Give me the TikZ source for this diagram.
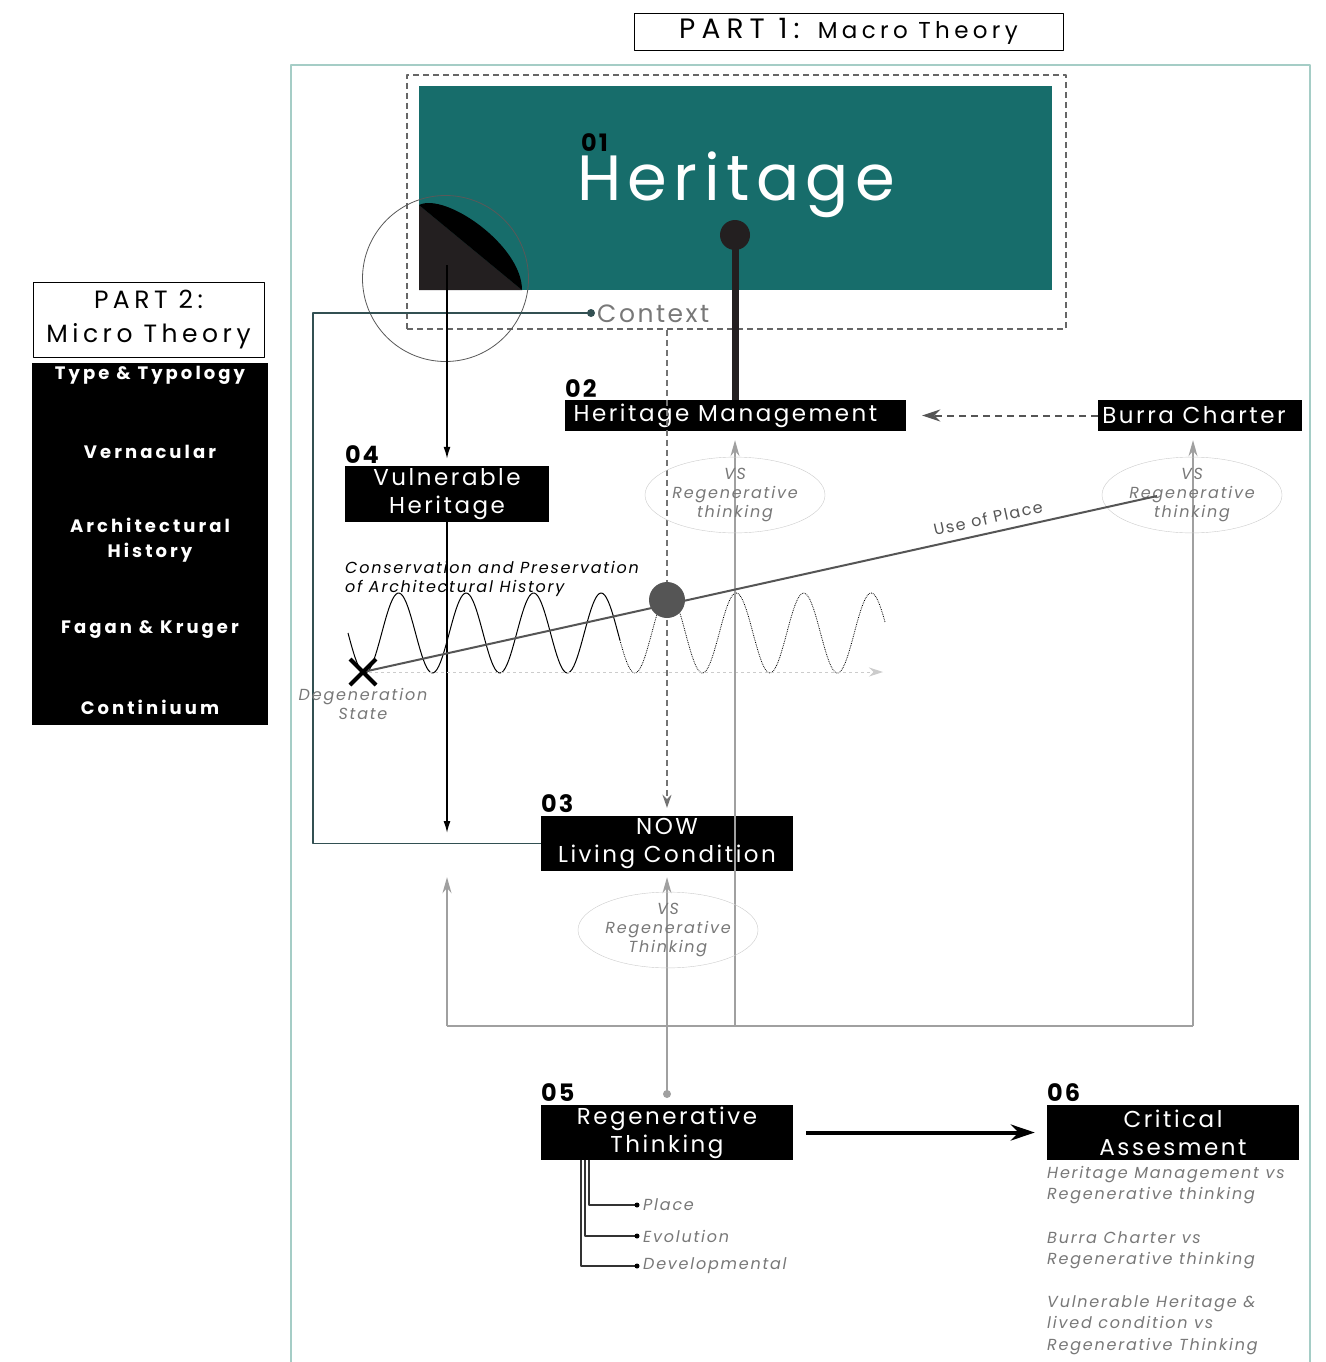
\documentclass[tikz,border=0pt]{standalone}
\usepackage{fontspec}
\setmainfont{Poppins}[LetterSpace=8]
\usetikzlibrary{arrows.meta,positioning,shapes.geometric}

\definecolor{herteal}{RGB}{23,109,107}
\definecolor{frameline}{RGB}{165,205,198}
\definecolor{ctxline}{RGB}{50,80,82}
\definecolor{darkink}{RGB}{35,31,32}
\definecolor{midgrey}{RGB}{85,85,85}
\definecolor{txtgrey}{RGB}{120,120,120}
\definecolor{linegrey}{RGB}{160,160,160}
\newcommand{\fsz}[2]{\fontsize{#1}{#2}\selectfont}
\newcommand{\wide}[1]{\addfontfeature{LetterSpace=#1}}

\tikzset{
  blkbox/.style={fill=black, text=white, inner sep=0, align=center, font=\fsz{23}{28}\wide{11}},
  numlbl/.style={anchor=base west, inner sep=0, font=\bfseries\fsz{24}{24}},
  vsnote/.style={ellipse, draw=black!20, minimum width=180, minimum height=64,
    inner sep=0, align=center, text=txtgrey, font=\itshape\fsz{16}{19}\wide{11}},
  greyarr/.style={linegrey, line width=1.5, -{Stealth[length=16pt,width=9pt]}},
  note/.style={inner sep=0, text=txtgrey, font=\itshape\fsz{16}{19}\wide{11}},
}

\begin{document}
\begin{tikzpicture}[x=1pt, y=-1pt, >={Latex[length=12pt,width=7pt]}, line join=bevel]
\useasboundingbox (0,0) rectangle (1325,1362);
\fill[white] (0,0) rectangle (1325,1362);

% frames
\draw[frameline, line width=1.2] (291,1362) |- (1310,65) -- (1310,1362);
\node[draw, line width=0.8, minimum width=429, minimum height=37, inner sep=0] (p1) at (848.5,31.5)
  {\fsz{28}{28}\wide{22}PART 1: \fsz{23}{23}\wide{19}Macro Theory};

% part 2
\node[draw, line width=0.8, minimum width=231, minimum height=75, inner sep=0, align=center,
  font=\fsz{25}{34}\wide{18}] (p2) at (148.5,319.5) {PART 2:\\Micro Theory};
\fill[black] (32,363) rectangle (268,725);
\begin{scope}[every node/.style={text=white, font=\bfseries\fsz{18}{25}\wide{17}, align=center, inner sep=0}]
\node (m1) at (150,375) {Type \& Typology};
\node (m2) at (150,452) {Vernacular};
\node (m3) at (150,540) {Architectural\\History};
\node (m4) at (150,630) {Fagan \& Kruger};
\node (m5) at (150,707) {Continiuum};
\end{scope}

% 01 heritage
\node[draw=black!60, dash pattern=on 6pt off 4pt, line width=1.5, minimum width=659, minimum height=254, inner sep=0] (hbox) at (736.5,202) {};
\fill[herteal] (419,86) rectangle (1052,290);
\node[anchor=base west, inner sep=0, text=white, font=\fsz{64}{64}\wide{10}] (her) at (577,200) {Heritage};
\node[numlbl] (n1) at (581,151) {01};
\fill[darkink] (419,205) -- (522,290) -- (419,290) -- cycle;
\fill[black] (419,205) .. controls (445,192) and (522,245) .. (522,290) -- cycle;
\draw[black!65, line width=0.8] (445.5,278.5) circle (83);
\coordinate (pin) at (735,235);
\coordinate (tip) at (447,265);

% boxes
\node[blkbox, minimum width=341, minimum height=31] (hm) at (735.5,415.5) {\hspace*{-20pt}Heritage Management};
\node[numlbl] (n2) at (565,397) {02};
\node[blkbox, minimum width=204, minimum height=31] (bc) at (1200,415.5) {\hspace*{-12pt}Burra Charter};
\node[blkbox, minimum width=204, minimum height=56] (vh) at (447,494) {Vulnerable\\Heritage};
\node[numlbl] (n4) at (345,463) {04};
\node[blkbox, minimum width=252, minimum height=55] (now) at (667,843.5) {NOW\\Living Condition};
\node[numlbl] (n3) at (541,812) {03};
\node[blkbox, minimum width=252, minimum height=55] (rt) at (667,1132.5) {Regenerative\\Thinking};
\node[numlbl] (n5) at (541,1101) {05};
\node[blkbox, minimum width=252, minimum height=55] (ca) at (1173,1132.5) {Critical\\Assesment};
\node[numlbl] (n6) at (1047,1101) {06};

% context
\coordinate (cdot) at (591,313);
\node[anchor=west, inner sep=0, text=txtgrey, font=\fsz{25}{25}\wide{10}] (ctx) at (597,314) {Context};
\draw[ctxline, line width=1.5] (cdot) -| (313,843.5) -- (now.west);
\fill[ctxline] (cdot) circle (4);

% heritage pin
\draw[darkink, line width=7] (pin) -- (pin |- hm.north);
\fill[darkink] (pin) circle (15);

% vulnerable heritage arrows
\draw[black, line width=1.5, ->] (tip) -- ([yshift=7]vh.north);
\draw[black, line width=1.5, ->] (vh.south) -- (447,833);

% dashed
\draw[black!55, line width=1.5, dash pattern=on 6pt off 4pt, -{Stealth[length=13pt,width=9pt]}] (hbox.south -| now.north) -- ([yshift=8]now.north);
\draw[midgrey, line width=2, dash pattern=on 7pt off 5pt, -{Stealth[length=18pt,width=12pt]}, shorten >=16] (bc.west) -- (hm.east);

% wave
\draw[black, line width=1] plot[domain=0:272, samples=160] (348+\x, {633+40*sin(5.3333*\x)});
\draw[black, line width=0.8, densely dotted] plot[domain=272:537, samples=160] (348+\x, {633+40*sin(5.3333*\x)});
\coordinate (xm) at (363,672);
\draw[black!20, line width=1, dashed, -{Stealth[length=14pt,width=9pt]}] (xm) -- (883,672);
\node[anchor=base west, inner sep=0, align=left, font=\itshape\fsz{16}{19}\wide{11}] (cons) at (345,592)
  {Conservation and Preservation\\of Architectural History};

% regenerative links
\coordinate (b1) at (447,1026);
\coordinate (b2) at (735,1026);
\coordinate (b3) at (1193,1026);
\coordinate (rdot) at (667,1094);
\draw[linegrey, line width=1.5] (b1) -- (b3);
\draw[greyarr] (b1) -- ([yshift=-6]b1 |- now.south);
\draw[greyarr] (b2) -- ([yshift=-9]b2 |- hm.south);
\draw[greyarr] (b3) -- ([yshift=-9]b3 |- bc.south);
\draw[greyarr] (rdot) -- ([yshift=-6]now.south);
\fill[linegrey] (rdot) circle (4);

\node[vsnote] (vs1) at (735,495) {VS\\Regenerative\\thinking};
\node[vsnote] (vs2) at (1192,495) {VS\\Regenerative\\thinking};
\node[vsnote] (vs3) at (668,930) {VS\\Regenerative\\Thinking};

% use of place
\coordinate (uend) at (1157,496);
\draw[midgrey, line width=2] (xm) -- (uend);
\node[rotate=12.5, inner sep=0, text=midgrey, font=\fsz{16}{16}\wide{10}] (uop) at (988,518) {Use of Place};
\fill[midgrey] (667,600) circle (18);
\draw[black, line width=4] (xm) ++(-13,-13) -- ++(26,26) (xm) ++(13,-13) -- ++(-26,26);
\node[note, align=center] (deg) at (363,704) {Degeneration\\State};

% to critical assesment
\draw[black, line width=4, -{Stealth[length=24pt,width=16pt]}, shorten <=13, shorten >=12] (rt.east) -- (ca.west);
\node[note, anchor=north west, align=left, font=\itshape\fsz{16}{21.5}\wide{11}] (cn1) at (1047,1166)
  {Heritage Management vs\\Regenerative thinking};
\node[note, anchor=north west, align=left, font=\itshape\fsz{16}{21.5}\wide{11}] (cn2) at (1047,1231)
  {Burra Charter vs\\Regenerative thinking};
\node[note, anchor=north west, align=left, font=\itshape\fsz{16}{21.5}\wide{11}] (cn3) at (1047,1295)
  {Vulnerable Heritage \&\\lived condition vs\\Regenerative Thinking};

% branches
\node[note, anchor=west] (pl) at (643,1205) {Place};
\node[note, anchor=west] (ev) at (643,1236) {Evolution};
\node[note, anchor=west] (dv) at (643,1266) {Developmental};
\draw[black!80, line width=1.2] (589,1160) |- ([xshift=-6]pl.west);
\draw[black!80, line width=1.2] (585,1160) |- ([xshift=-6]ev.west);
\draw[black!80, line width=1.2] (581,1160) |- ([xshift=-6]dv.west);
\fill ([xshift=-6]pl.west) circle (2.5) ([xshift=-6]ev.west) circle (2.5) ([xshift=-6]dv.west) circle (2.5);
\end{tikzpicture}
\end{document}
